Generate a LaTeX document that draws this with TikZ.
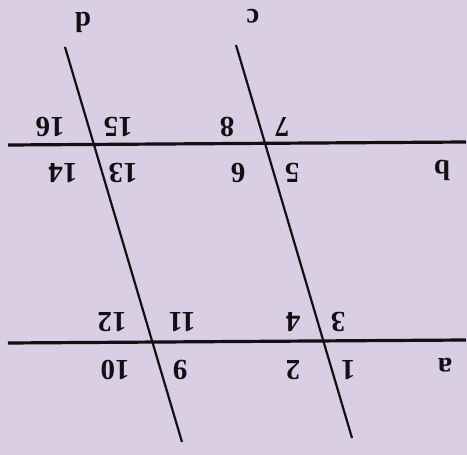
\documentclass[tikz,border=0pt]{standalone}
\usepackage{fontspec}
\setmainfont{Liberation Serif}
\usepackage{xcolor}
\definecolor{PaleLilac}{HTML}{D9CEE4}
\definecolor{InkBlack}{HTML}{111111}

\begin{document}
\begin{tikzpicture}[x=1pt, y=-1pt,
  flip/.style={rotate=180, font=\fontsize{29}{29}\selectfont\bfseries, text=InkBlack, inner sep=0pt},
  parline/.style={draw=InkBlack, line width=3.2pt},
  cutline/.style={draw=InkBlack, line width=2.2pt}
]
  \fill[PaleLilac] (0,0) rectangle (467,455);
  \useasboundingbox (0,0) rectangle (467,455);
  % lines
  \coordinate (bL) at (8,145);
  \coordinate (bR) at (466,142);
  \coordinate (aL) at (8,343);
  \coordinate (aR) at (466,340);
  \coordinate (dT) at (65,47);
  \coordinate (dB) at (182,442);
  \coordinate (cT) at (236,45);
  \coordinate (cB) at (352,438);
  \draw[parline] (bL) -- (bR);
  \draw[parline] (aL) -- (aR);
  \draw[cutline] (dT) -- (dB);
  \draw[cutline] (cT) -- (cB);
  % line names
  \node[flip] (ld) at (83,22) {d};
  \node[flip] (lc) at (253,16) {c};
  \node[flip] (lb) at (442,170) {b};
  \node[flip] (la) at (445,365) {a};
  % angle numbers
  \node[flip] (n16) at (50,127) {16};
  \node[flip] (n15) at (118,127) {15};
  \node[flip] (n14) at (63,173) {14};
  \node[flip] (n13) at (123,173) {13};
  \node[flip] (n8) at (227,127) {8};
  \node[flip] (n7) at (282,127) {7};
  \node[flip] (n6) at (238,173) {6};
  \node[flip] (n5) at (292,173) {5};
  \node[flip] (n12) at (112,322) {12};
  \node[flip] (n11) at (182,322) {11};
  \node[flip] (n4) at (293,322) {4};
  \node[flip] (n3) at (338,322) {3};
  \node[flip] (n10) at (115,370) {10};
  \node[flip] (n9) at (180,370) {9};
  \node[flip] (n2) at (293,370) {2};
  \node[flip] (n1) at (348,370) {1};
\end{tikzpicture}
\end{document}
